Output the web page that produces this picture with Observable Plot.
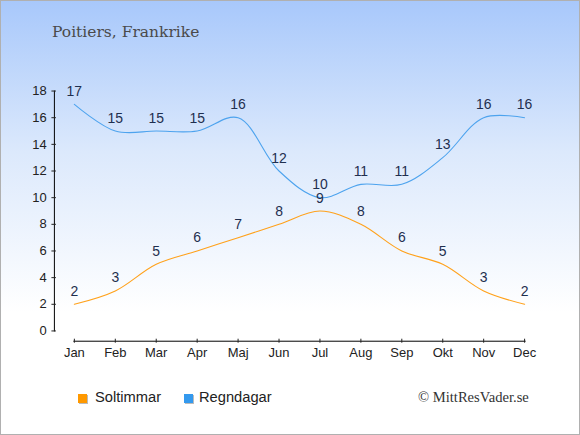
<!DOCTYPE html>
<html>
<head>
<meta charset="utf-8">
<script src="https://cdn.jsdelivr.net/npm/d3@7"></script>
<script src="https://cdn.jsdelivr.net/npm/@observablehq/plot@0.6"></script>
<style>
  html, body { margin: 0; padding: 0; background: #fff; }
  #wrap {
    position: relative; width: 580px; height: 435px; box-sizing: border-box;
    border: 1px solid #b0b0b0;
    background: linear-gradient(to bottom, #a8c8fb 0%, #dce9fc 35%, #ffffff 72%, #ffffff 100%);
    overflow: hidden;
  }
  #chart { position: absolute; left: -1px; top: -1px; }
  .abs { position: absolute; line-height: 1; white-space: nowrap; }
  #title { left: 51px; top: 24px; font-family: "DejaVu Serif", serif; font-size: 15.5px; color: #4a4a4a; }
  .leg { top: 389px; font-family: "Liberation Sans", Arial, sans-serif; font-size: 14.7px; color: #222; }
  .sw { position: absolute; width: 9px; height: 9px; top: 393px; box-shadow: 1px 1px 0 #bbb; }
  #copy { left: 417px; top: 388.5px; font-family: "Liberation Serif", serif; font-size: 14.6px; color: #333; }
</style>
</head>
<body>
<div id="wrap">
  <div id="title" class="abs">Poitiers, Frankrike</div>
  <div id="chart"></div>
  <div class="sw" style="left:77px;background:#ff9900"></div>
  <div class="abs leg" style="left:94px">Soltimmar</div>
  <div class="sw" style="left:183px;background:#3399ee"></div>
  <div class="abs leg" style="left:198px">Regndagar</div>
  <div id="copy" class="abs">© MittResVader.se</div>
</div>
<script>
const months = ["Jan","Feb","Mar","Apr","Maj","Jun","Jul","Aug","Sep","Okt","Nov","Dec"];
const sunHours = [2,3,5,6,7,8,9,8,6,5,3,2];
const rainDays = [17,15,15,15,16,12,10,11,11,13,16,16];
const yTicks = [0,2,4,6,8,10,12,14,16,18];

const rows = months.map((m, i) => ({month: m, sun: sunHours[i], rain: rainDays[i]}));

const plot = Plot.plot({
  width: 580,
  height: 435,
  marginLeft: 54,
  marginRight: 54,
  marginTop: 90.7,
  marginBottom: 93.7,
  style: {background: "transparent", fontFamily: "Liberation Sans, Arial, sans-serif", fontSize: "13px", color: "#222"},
  x: {type: "point", domain: months, range: [73.5, 525.5], padding: 0},
  y: {domain: [-0.77, 18]},
  marks: [
    Plot.frame({anchor: "left", insetBottom: 10.3, stroke: "#000"}),
    Plot.frame({anchor: "bottom", insetLeft: 19.5, insetRight: 0.5, stroke: "#000"}),
    Plot.axisY({ticks: yTicks, tickSize: 4.5, dx: 2, tickPadding: 5, label: null, text: null}),
    Plot.axisY({ticks: yTicks, tickSize: 0, tickPadding: 7.8, label: null, tickFormat: d => d}),
    Plot.axisX({tickSize: 4, dy: -2, text: null, label: null}),
    Plot.axisX({tickSize: 0, tickPadding: 6.5, label: null}),
    Plot.line(rows, {x: "month", y: "sun", curve: "catmull-rom", stroke: "#ffa11a", strokeWidth: 1.1}),
    Plot.line(rows, {x: "month", y: "rain", curve: "catmull-rom", stroke: "#4da3ee", strokeWidth: 1.1}),
    Plot.text(rows, {x: "month", y: "sun", text: "sun", dy: -13, fill: "#1f2f4f", fontSize: 14}),
    Plot.text(rows, {x: "month", y: "rain", text: "rain", dy: -13, fill: "#1f2f4f", fontSize: 14})
  ]
});
document.getElementById("chart").appendChild(plot);
</script>
</body>
</html>
